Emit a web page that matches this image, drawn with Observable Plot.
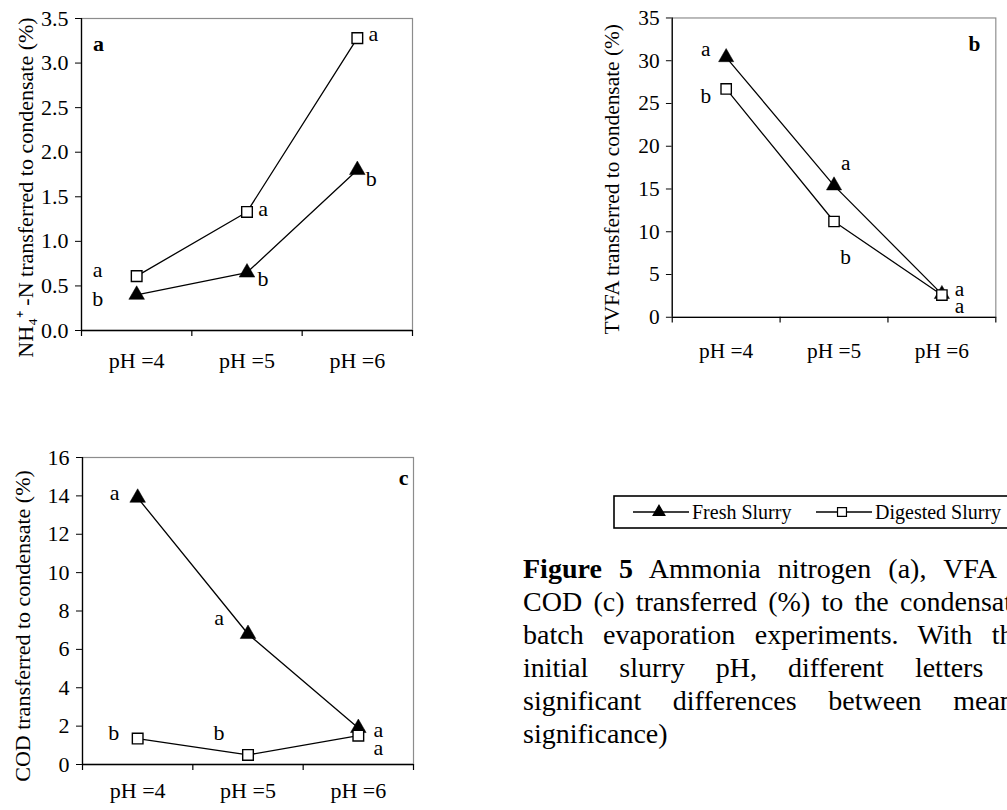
<!DOCTYPE html>
<html>
<head>
<meta charset="utf-8">
<script src="https://cdn.jsdelivr.net/npm/d3@7"></script>
<script src="https://cdn.jsdelivr.net/npm/@observablehq/plot@0.6"></script>
<style>
html, body { margin: 0; padding: 0; background: #fff; overflow: hidden; }
#page { position: relative; width: 1007px; height: 810px; overflow: hidden; background: #fff;
  font-family: "Liberation Serif", "Times New Roman", serif; color: #000; }
.panel { position: absolute; }
#caption { position: absolute; left: 523px; top: 552px; width: 580px; font-size: 28px; line-height: 33px; }
#caption .cl { text-align: justify; text-align-last: justify; white-space: normal; }
#caption .last { text-align: left; }
</style>
</head>
<body>
<div id="page">
  <div class="panel" id="pa" style="left:0px;top:0px"></div>
  <div class="panel" id="pb" style="left:560px;top:0px"></div>
  <div class="panel" id="pc" style="left:0px;top:420px"></div>
  <svg id="legend" class="panel" style="left:600px;top:486px" width="420" height="50"></svg>
  <div id="caption">
    <div class="cl"><b>Figure 5</b> Ammonia nitrogen (a), VFA (b) and</div>
    <div class="cl">COD (c) transferred (%) to the condensate in the</div>
    <div class="cl">batch evaporation experiments. With the same</div>
    <div class="cl">initial slurry pH, different letters indicate</div>
    <div class="cl">significant differences between means (5%</div>
    <div class="last">significance)</div>
  </div>
</div>
<script>
// ---------- data ----------
const categories = ["pH =4", "pH =5", "pH =6"];
const seriesNames = ["Fresh Slurry", "Digested Slurry"];

const ammoniaFresh = [0.40, 0.65, 1.80];
const ammoniaDigested = [0.61, 1.33, 3.28];
const ammoniaFreshLetters = ["b", "b", "b"];
const ammoniaDigestedLetters = ["a", "a", "a"];
const ammoniaTicks = [0, 0.5, 1.0, 1.5, 2.0, 2.5, 3.0, 3.5];

const vfaFresh = [30.4, 15.4, 2.7];
const vfaDigested = [26.7, 11.2, 2.6];
const vfaFreshLetters = ["a", "a", "a"];
const vfaDigestedLetters = ["b", "b", "a"];
const vfaTicks = [0, 5, 10, 15, 20, 25, 30, 35];

const codFresh = [13.9, 6.8, 1.9];
const codDigested = [1.35, 0.5, 1.5];
const codFreshLetters = ["a", "a", "a"];
const codDigestedLetters = ["b", "b", "a"];
const codTicks = [0, 2, 4, 6, 8, 10, 12, 14, 16];

// ---------- drawing ----------
const FONT = "'Liberation Serif', 'Times New Roman', serif";

function makePanel(cfg) {
  const fresh = categories.map((c, i) => ({x: i + 1, y: cfg.fresh[i], letter: cfg.freshLetters[i], off: cfg.freshOff[i]}));
  const digested = categories.map((c, i) => ({x: i + 1, y: cfg.digested[i], letter: cfg.digestedLetters[i], off: cfg.digestedOff[i]}));
  const letterMarks = [...fresh, ...digested].map(r =>
    Plot.text([r], {x: "x", y: "y", text: "letter", dx: r.off[0], dy: r.off[1],
      fontSize: 22, textAnchor: "middle", lineAnchor: "middle", fill: "#000"}));
  return Plot.plot({
    width: cfg.width, height: cfg.height,
    marginLeft: cfg.ml, marginRight: cfg.mr, marginTop: cfg.mt, marginBottom: cfg.mb,
    style: {fontFamily: FONT, fontSize: "22px", color: "#000", background: "transparent", overflow: "visible"},
    x: {domain: [0.5, 3.5], ticks: [1, 2, 3], tickFormat: d => categories[Math.round(d) - 1], tickSize: 0, tickPadding: cfg.xPad, label: null},
    y: {domain: [0, cfg.ticks[cfg.ticks.length - 1]], ticks: cfg.ticks, tickFormat: cfg.fmt, tickSize: 6, tickPadding: 7, label: null},
    marks: [
      Plot.frame({stroke: "#8c8c8c", strokeWidth: 1.2}),
      Plot.ruleY([0], {stroke: "#000", strokeWidth: 1.3}),
      Plot.ruleX([0.5], {stroke: "#000", strokeWidth: 1.3}),
      Plot.ruleX([0.5, 1.5, 2.5, 3.5], {x: d => d, y1: 0, y2: 0, insetBottom: -6, stroke: "#000", strokeWidth: 1.2}),
      Plot.line(fresh, {x: "x", y: "y", stroke: "#000", strokeWidth: 1.3}),
      Plot.line(digested, {x: "x", y: "y", stroke: "#000", strokeWidth: 1.3}),
      Plot.dot(fresh, {x: "x", y: "y", symbol: "triangle", r: 5.8, fill: "#000", stroke: "#000", strokeWidth: 0.5}),
      Plot.dot(digested, {x: "x", y: "y", symbol: "square", r: 6.0, fill: "#fff", stroke: "#000", strokeWidth: 1.4}),
      ...letterMarks,
      Plot.text([cfg.panelLetter], {frameAnchor: cfg.letterAnchor, dx: cfg.letterOff[0], dy: cfg.letterOff[1],
        fontSize: 22, fontWeight: "bold", textAnchor: "middle", lineAnchor: "middle", fill: "#000"}),
      Plot.text([cfg.yLabel], {frameAnchor: "left", dx: cfg.yLabOff[0], dy: cfg.yLabOff[1], rotate: -90,
        fontSize: 22, textAnchor: "middle", lineAnchor: "middle", fill: "#000"})
    ]
  });
}

document.getElementById("pa").appendChild(makePanel({
  fresh: ammoniaFresh, digested: ammoniaDigested,
  freshLetters: ammoniaFreshLetters, digestedLetters: ammoniaDigestedLetters,
  freshOff: [[-39, 4], [16, 6], [14, 9]], digestedOff: [[-39, -6], [16, -3], [16, -4]],
  ticks: ammoniaTicks, fmt: d3.format(".1f"),
  yLabel: "NH\u2084\u207A -N transferred to condensate (%)", yLabOff: [-56, 13],
  panelLetter: "a", letterAnchor: "top-left", letterOff: [17, 25],
  width: 430, height: 380, ml: 81, mr: 18, mt: 18, mb: 50, xPad: 22
}));

document.getElementById("pb").appendChild(makePanel({
  fresh: vfaFresh, digested: vfaDigested,
  freshLetters: vfaFreshLetters, digestedLetters: vfaDigestedLetters,
  freshOff: [[-21, -8], [12, -23], [18, -5]], digestedOff: [[-21, 7], [12, 37], [18, 11]],
  ticks: vfaTicks, fmt: d3.format("d"),
  yLabel: "TVFA transferred to condensate (%)", yLabOff: [-62, 12],
  panelLetter: "b", letterAnchor: "top-right", letterOff: [-22, 27],
  width: 460, height: 380, ml: 115, mr: 12, mt: 18, mb: 54, xPad: 26
}));

document.getElementById("pc").appendChild(makePanel({
  fresh: codFresh, digested: codDigested,
  freshLetters: codFreshLetters, digestedLetters: codDigestedLetters,
  freshOff: [[-23, -5], [-29, -16], [20, 2]], digestedOff: [[-24, -6], [-29, -22], [20, 12]],
  ticks: codTicks, fmt: d3.format("d"),
  yLabel: "COD transferred to condensate (%)", yLabOff: [-60, 15],
  panelLetter: "c", letterAnchor: "top-right", letterOff: [-10, 20],
  width: 430, height: 390, ml: 82, mr: 17, mt: 37, mb: 46, xPad: 18
}));

// ---------- legend ----------
const lg = d3.select("#legend");
lg.append("rect").attr("x", 14).attr("y", 10).attr("width", 430).attr("height", 32)
  .attr("fill", "#fff").attr("stroke", "#000").attr("stroke-width", 1.6);
const legendItems = [
  {name: seriesNames[0], x0: 33, symbol: d3.symbolTriangle, fill: "#000", size: 60},
  {name: seriesNames[1], x0: 216, symbol: d3.symbolSquare, fill: "#fff", size: 80}
];
legendItems.forEach(it => {
  lg.append("line").attr("x1", it.x0).attr("x2", it.x0 + 56).attr("y1", 26).attr("y2", 26)
    .attr("stroke", "#000").attr("stroke-width", 1.3);
  lg.append("path").attr("d", d3.symbol(it.symbol, it.size)()).attr("transform", `translate(${it.x0 + 26},26)`)
    .attr("fill", it.fill).attr("stroke", "#000").attr("stroke-width", 1.2);
  lg.append("text").attr("x", it.x0 + 59).attr("y", 33).attr("font-size", 20)
    .attr("font-family", FONT).attr("fill", "#000").text(it.name);
});
</script>
</body>
</html>
